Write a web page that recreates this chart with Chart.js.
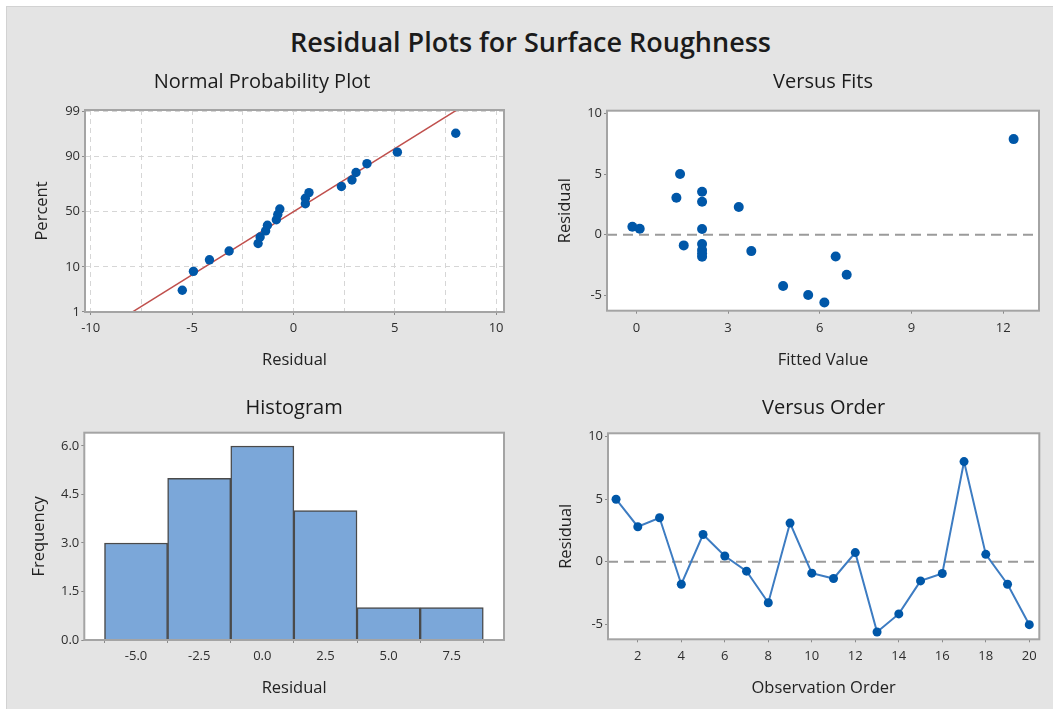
<!DOCTYPE html>
<html>
<head>
<meta charset="utf-8">
<script src="https://cdn.jsdelivr.net/npm/chart.js@4.4.1/dist/chart.umd.min.js"></script>
<style>
  body { margin: 0; background: #fff; font-family: "Open Sans", sans-serif; }
  #panel { position: absolute; left: 6px; top: 6px; width: 1047px; height: 703px; background: #e4e4e4;
           border-left: 1px solid #d2d2d2; border-top: 1px solid #d2d2d2; box-sizing: border-box; }
  #mainTitle { position: absolute; left: 6px; width: 1049px; top: 28px; text-align: center;
               font-size: 27px; font-weight: 600; line-height: 27px; color: #1b1b1b; }
  canvas { position: absolute; }
</style>
</head>
<body>
<div id="panel"></div>
<div id="mainTitle">Residual Plots for Surface Roughness</div>
<canvas id="probChart" width="560" height="320" style="left:20px;top:60px"></canvas>
<canvas id="fitsChart" width="513" height="320" style="left:540px;top:60px"></canvas>
<canvas id="histChart" width="560" height="324" style="left:20px;top:385px"></canvas>
<canvas id="orderChart" width="513" height="324" style="left:540px;top:385px"></canvas>
<script>
// Normal probability plot (sorted residuals vs plotted percent)
const probResid = [-5.48, -4.93, -4.14, -3.17, -1.74, -1.64, -1.37, -1.28, -0.84, -0.77,
                   -0.67, 0.59, 0.59, 0.77, 2.37, 2.89, 3.09, 3.63, 5.13, 8.01];
const probPct = [3.4, 8.3, 13.2, 18.1, 23.0, 27.9, 32.8, 37.7, 42.6, 47.5,
                 52.5, 57.4, 62.3, 67.2, 72.1, 77.0, 81.9, 86.8, 91.7, 96.6];
const fitLineX = [-8.78, 8.78];
const fitLinePct = [0.5, 99.5];
const probYTicks = [1, 10, 50, 90, 99];
const probXTicks = [-10, -7.5, -5, -2.5, 0, 2.5, 5, 7.5, 10];

// Versus fits
const fittedVal = [-0.13, 0.11, 1.43, 1.31, 1.55, 2.15, 2.15, 2.15, 2.15, 2.15,
                   2.15, 2.15, 3.35, 3.76, 4.80, 5.62, 6.15, 6.52, 6.88, 12.34];
const fittedResid = [0.66, 0.49, 5.0, 3.05, -0.88, 3.54, 2.72, 0.47, -0.77, -1.26,
                     -1.55, -1.81, 2.28, -1.35, -4.23, -4.97, -5.58, -1.79, -3.30, 7.88];
const fitsXTicks = [0, 3, 6, 9, 12];
const residTicks = [-5, 0, 5, 10];

// Histogram
const binCenters = [-5.0, -2.5, 0.0, 2.5, 5.0, 7.5];
const binCounts = [3, 5, 6, 4, 1, 1];
const freqTicks = [0, 1.5, 3.0, 4.5, 6.0];

// Versus order
const obsOrder = [1, 2, 3, 4, 5, 6, 7, 8, 9, 10, 11, 12, 13, 14, 15, 16, 17, 18, 19, 20];
const orderResid = [5.0, 2.8, 3.52, -1.8, 2.18, 0.46, -0.75, -3.28, 3.09, -0.91,
                    -1.34, 0.73, -5.62, -4.17, -1.53, -0.94, 8.01, 0.59, -1.8, -5.03];
const orderTicks = [2, 4, 6, 8, 10, 12, 14, 16, 18, 20];

const FONT = '"Open Sans", sans-serif';
const TICK_FONT = { family: FONT, size: 13 };
const AXIS_FONT = { family: FONT, size: 16.5, weight: '500' };
const SUB_FONT = { family: FONT, size: 20, weight: '500' };
const POINT_BLUE = '#0057a8';

// inverse normal cdf (Acklam), used for the probability axis
function normInv(p) {
  const a = [-39.69683028665376, 220.9460984245205, -275.9285104469687, 138.3577518672690, -30.66479806614716, 2.506628277459239];
  const b = [-54.47609879822406, 161.5858368580409, -155.6989798598866, 66.80131188771972, -13.28068155288572];
  const c = [-0.007784894002430293, -0.3223964580411365, -2.400758277161838, -2.549732539343734, 4.374664141464968, 2.938163982698783];
  const d = [0.007784695709041462, 0.3224671290700398, 2.445134137142996, 3.754408661907416];
  const lo = 0.02425;
  if (p < lo || p > 1 - lo) {
    const q = Math.sqrt(-2 * Math.log(p < lo ? p : 1 - p));
    const v = (((((c[0] * q + c[1]) * q + c[2]) * q + c[3]) * q + c[4]) * q + c[5]) /
              ((((d[0] * q + d[1]) * q + d[2]) * q + d[3]) * q + 1);
    return p < lo ? v : -v;
  }
  const q = p - 0.5, r = q * q;
  return (((((a[0] * r + a[1]) * r + a[2]) * r + a[3]) * r + a[4]) * r + a[5]) * q /
         (((((b[0] * r + b[1]) * r + b[2]) * r + b[3]) * r + b[4]) * r + 1);
}

// white plot area + grey frame
Chart.register({
  id: 'plotFrame',
  beforeDraw(chart) {
    const { ctx, chartArea: a } = chart;
    ctx.save();
    ctx.fillStyle = '#fff';
    ctx.fillRect(a.left, a.top, a.width, a.height);
    ctx.restore();
  },
  afterDraw(chart) {
    const { ctx, chartArea: a } = chart;
    ctx.save();
    ctx.strokeStyle = '#a4a4a4';
    ctx.lineWidth = 2;
    ctx.strokeRect(a.left, a.top, a.width, a.height);
    ctx.restore();
  }
});

// build an axis with fixed size so the plot areas line up with the reference
function axis(o) {
  const horizontal = o.pos === 'x';
  return {
    type: 'linear',
    min: o.min,
    max: o.max,
    afterFit: s => { if (horizontal) s.height = o.size; else s.width = o.size; },
    afterBuildTicks: s => { s.ticks = o.ticks.map(v => ({ value: o.map ? o.map(v) : v })); },
    ticks: {
      font: TICK_FONT, color: '#2e2e2e', padding: o.pad, autoSkip: false, maxRotation: 0,
      callback: (v, i) => o.label ? o.label(o.ticks[i]) : String(o.ticks[i])
    },
    grid: {
      drawOnChartArea: !!o.grid, color: '#d6d6d6', tickLength: 3, tickBorderDash: [],
      tickColor: o.tickColor || '#8a8a8a'
    },
    border: { display: false, dash: [5, 4] },
    title: {
      display: true, text: o.title, font: AXIS_FONT, color: '#222',
      padding: horizontal ? { top: 0, bottom: o.titlePad } : { top: o.titlePad, bottom: 0 }
    }
  };
}

function baseOptions(sub, subPad, fullSize, rightPad, scales) {
  return {
    responsive: false,
    animation: false,
    devicePixelRatio: 1,
    layout: { padding: { left: 0, right: rightPad, top: 0, bottom: 0 } },
    plugins: {
      legend: { display: false },
      tooltip: { enabled: false },
      title: { display: true, text: sub, font: SUB_FONT, color: '#1b1b1b', padding: subPad, fullSize: fullSize }
    },
    scales: scales
  };
}

// Normal Probability Plot
new Chart(document.getElementById('probChart'), {
  type: 'scatter',
  data: {
    datasets: [
      {
        data: probResid.map((x, i) => ({ x: x, y: normInv(probPct[i] / 100) })),
        pointRadius: 4.7, backgroundColor: POINT_BLUE, borderWidth: 0
      },
      {
        type: 'line',
        data: fitLineX.map((x, i) => ({ x: x, y: normInv(fitLinePct[i] / 100) })),
        borderColor: '#c0504d', borderWidth: 1.5, pointRadius: 0
      }
    ]
  },
  options: baseOptions('Normal Probability Plot', { top: 10, bottom: 16 }, true, 76, {
    x: axis({ pos: 'x', min: -10.28, max: 10.39, size: 68, pad: 5.2, title: 'Residual', titlePad: 9.8,
              ticks: probXTicks, grid: true,
              label: v => (v % 5 === 0 ? String(v) : ''),
              tickColor: c => (c.tick && c.tick.value % 5 === 0 ? '#8a8a8a' : 'rgba(0,0,0,0)') }),
    y: axis({ pos: 'y', min: -2.33, max: 2.365, size: 65, pad: 2, title: 'Percent', titlePad: 12.8,
              ticks: probYTicks, grid: true, map: p => normInv(p / 100) })
  })
});

// Versus Fits
new Chart(document.getElementById('fitsChart'), {
  type: 'scatter',
  data: {
    datasets: [
      {
        data: fittedVal.map((x, i) => ({ x: x, y: fittedResid[i] })),
        pointRadius: 5, backgroundColor: POINT_BLUE, borderWidth: 0
      },
      {
        type: 'line',
        data: [{ x: -0.96, y: 0 }, { x: 13.17, y: 0 }],
        borderColor: '#9b9b9b', borderWidth: 1.8, borderDash: [10, 6], pointRadius: 0
      }
    ]
  },
  options: baseOptions('Versus Fits', { top: 10, bottom: 16.7 }, false, 14, {
    x: axis({ pos: 'x', min: -0.96, max: 13.17, size: 69.3, pad: 6.5, title: 'Fitted Value', titlePad: 9.8,
              ticks: fitsXTicks }),
    y: axis({ pos: 'y', min: -6.26, max: 10.22, size: 67, pad: 2, title: 'Residual', titlePad: 15.8,
              ticks: residTicks })
  })
});

// Histogram
new Chart(document.getElementById('histChart'), {
  type: 'bar',
  data: {
    datasets: [{
      data: binCenters.map((x, i) => ({ x: x, y: binCounts[i] })),
      backgroundColor: '#7ba7d9', borderColor: '#4a4a4a', borderWidth: 1.5,
      barPercentage: 1, categoryPercentage: 1
    }]
  },
  options: baseOptions('Histogram', { top: 11, bottom: 12.7 }, false, 76, {
    x: Object.assign(axis({ pos: 'x', min: -7.05, max: 9.57, size: 69, pad: 5.2, title: 'Residual', titlePad: 10.8,
              ticks: binCenters, label: v => v.toFixed(1) }), { offset: false }),
    y: axis({ pos: 'y', min: 0, max: 6.41, size: 64.3, pad: 2, title: 'Frequency', titlePad: 9.8,
              ticks: freqTicks, label: v => v.toFixed(1) })
  })
});

// Versus Order
new Chart(document.getElementById('orderChart'), {
  type: 'scatter',
  data: {
    datasets: [
      {
        type: 'line',
        data: obsOrder.map((x, i) => ({ x: x, y: orderResid[i] })),
        borderColor: '#3d7cc2', borderWidth: 2, pointRadius: 4.5,
        pointBackgroundColor: POINT_BLUE, pointBorderWidth: 0
      },
      {
        type: 'line',
        data: [{ x: 0.63, y: 0 }, { x: 20.46, y: 0 }],
        borderColor: '#9b9b9b', borderWidth: 1.8, borderDash: [10, 6], pointRadius: 0
      }
    ]
  },
  options: baseOptions('Versus Order', { top: 11, bottom: 13.3 }, false, 13.7, {
    x: axis({ pos: 'x', min: 0.63, max: 20.46, size: 69.7, pad: 6.6, title: 'Observation Order', titlePad: 10.8,
              ticks: orderTicks }),
    y: axis({ pos: 'y', min: -6.2, max: 10.27, size: 68, pad: 2, title: 'Residual', titlePad: 16.3,
              ticks: residTicks })
  })
});
</script>
</body>
</html>
